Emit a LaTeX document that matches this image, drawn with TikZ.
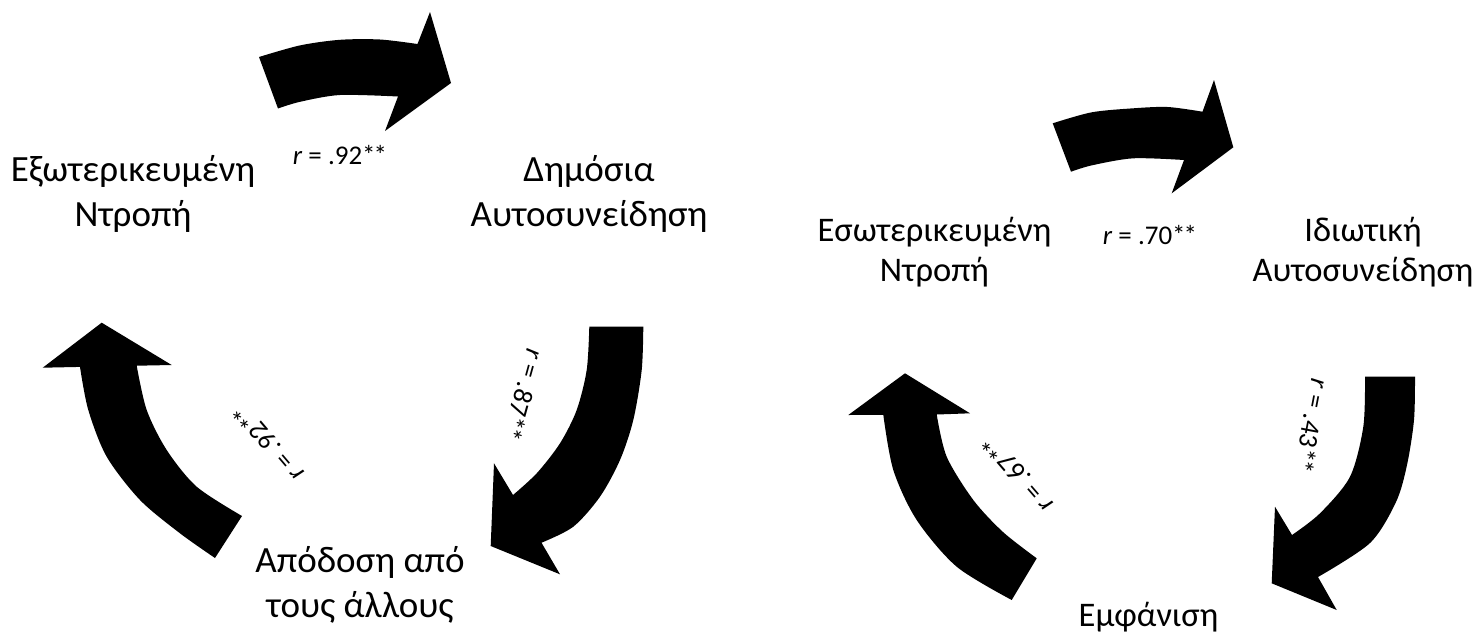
\documentclass[tikz,border=0pt]{standalone}
\usepackage{fontspec}
\setmainfont{Carlito}
\newcommand{\twostars}{*\kern-2pt*}
\begin{document}
\begin{tikzpicture}[x=1pt,y=-1pt,
  blockarrow/.style={fill=black},
  bigtext/.style={align=center,font=\fontsize{37}{45}\selectfont,inner sep=0pt},
  smalltext/.style={align=center,font=\fontsize{34.5}{40}\selectfont,inner sep=0pt},
  corr/.style={font=\fontsize{27}{32}\selectfont,inner sep=0pt}]
\fill[white] (0,0) rectangle (1475,641);
\useasboundingbox (0,0) rectangle (1475,641);

% ---------------- left cycle ----------------
\node[bigtext] (ext) at (133,194) {Εξωτερικευμένη\\Ντροπή};
\node[bigtext] (pub) at (589,194) {Δημόσια\\Αυτοσυνείδηση};
\node[bigtext] (attr) at (360,585) {Απόδοση από\\τους άλλους};

% top arrow
\fill[blockarrow] plot[smooth] coordinates {(259,57) (300,45.4) (340,39.8) (380,39.5) (417.5,44)}
  -- (430,12) -- (451,83) -- (385,131)
  -- plot[smooth] coordinates {(398,96.5) (340,95) (300,101.8) (278,108.5)} -- cycle;
% right arrow
\fill[blockarrow] plot[smooth] coordinates {(643.3,326.7) (641.7,370) (633.3,420) (620,460) (600,496.7) (573.3,526.7) (541.5,542.7)}
  -- (560,574.3) -- (490.7,546) -- (494,463.3)
  -- plot[smooth] coordinates {(513,495) (536.7,473.3) (560,443.3) (576.7,410) (586.7,370) (589.3,326.7)} -- cycle;
% left arrow
\fill[blockarrow] plot[smooth] coordinates {(242,516) (196.7,486.7) (166.7,450) (146.7,410) (136.7,365.7)}
  -- (171.7,365) -- (101.7,322.7) -- (42.7,367.7)
  -- plot[smooth] coordinates {(80,366.9) (88.3,410) (106.7,456.7) (140,500) (180,533.3) (215,558)} -- cycle;

\node[corr] (l1) at (340,155) {\textit{r} = .92\twostars};
\node[corr,rotate=-105.5] (l2) at (524,395) {\textit{r} = .87\twostars};
\node[corr,rotate=130.3] (l3) at (268,443) {\textit{r} = .92\twostars};

% ---------------- right cycle ----------------
\node[smalltext] (int) at (934.4,252) {Εσωτερικευμένη\\Ντροπή};
\node[smalltext] (priv) at (1363,252) {Ιδιωτική\\Αυτοσυνείδηση};
\node[smalltext] (app) at (1148.5,617) {Εμφάνιση};

% top arrow
\fill[blockarrow] plot[smooth] coordinates {(1052.7,123.3) (1091.7,112.3) (1133.3,108.3) (1167.7,107) (1202.5,111.7)}
  -- (1214,80) -- (1233.3,147.3) -- (1171.7,193.3)
  -- plot[smooth] coordinates {(1184,160) (1133.3,158.3) (1092,165.3) (1071,171.7)} -- cycle;
% right arrow
\fill[blockarrow] plot[smooth] coordinates {(1415,376.7) (1414,420) (1407,465) (1396,502) (1370,543) (1318,577)}
  -- (1336.7,610) -- (1271.7,583.3) -- (1275,506.7)
  -- plot[smooth] coordinates {(1292,535) (1320,513.3) (1350,476.7) (1363.3,426.7) (1365,376.7)} -- cycle;
% left arrow
\fill[blockarrow] plot[smooth] coordinates {(1036.7,558.3) (1003,532) (973.3,500) (946.7,456.7) (936.7,414.5)}
  -- (970,413.3) -- (905,373.3) -- (848.3,415)
  -- plot[smooth] coordinates {(883.3,414.8) (893.3,470) (916.7,520) (956.7,566.7) (1011.7,600)} -- cycle;

\node[corr] (r1) at (1150,235) {\textit{r} = .70\twostars};
\node[corr,rotate=-100.9] (r2) at (1312,426) {\textit{r} = .43\twostars};
\node[corr,rotate=130.7] (r3) at (1017,474) {\textit{r} = .67\twostars};
\end{tikzpicture}
\end{document}
